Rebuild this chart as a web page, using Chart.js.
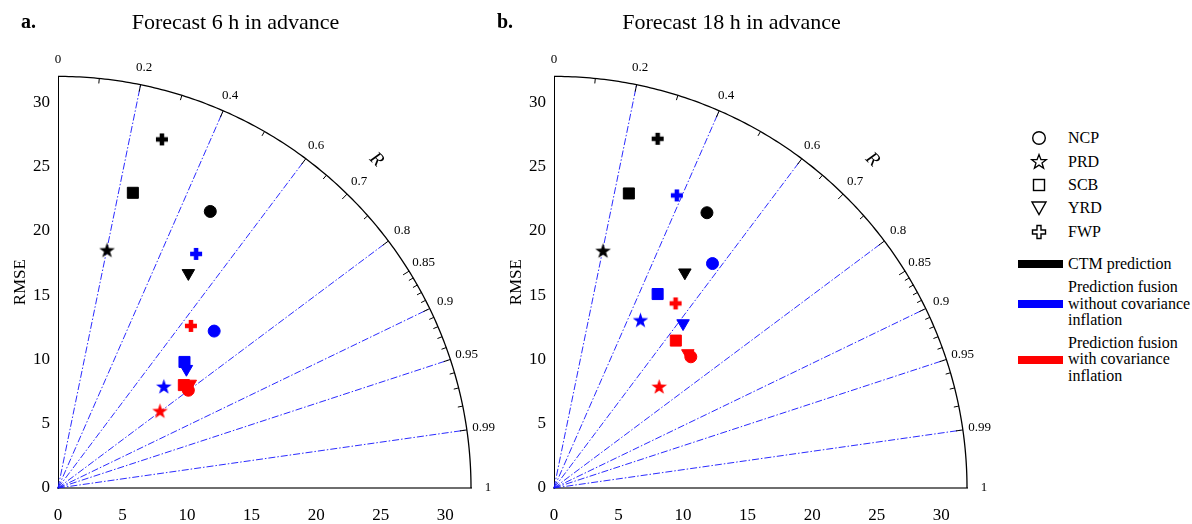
<!DOCTYPE html>
<html>
<head>
<meta charset="utf-8">
<script src="https://cdn.jsdelivr.net/npm/chart.js@4.4.1/dist/chart.umd.min.js"></script>
<style>
  body { margin: 0; background: #fff; }
  #wrap { position: relative; width: 1192px; height: 524px; background: #fff; font-family: "Liberation Serif", "DejaVu Serif", serif; }
  .panel { position: absolute; top: 0; width: 496px; height: 524px; }
  .tag { position: absolute; top: 10px; font-family: "Liberation Serif", serif; font-size: 20px; font-weight: bold; color: #000; }
  #legend { position: absolute; left: 1018px; top: 0; width: 174px; height: 524px; font-family: "Liberation Serif", serif; font-size: 16px; color: #000; }
  .leg-row { position: absolute; left: 0; white-space: nowrap; }
  .leg-text { position: absolute; left: 50px; line-height: 16.5px; white-space: nowrap; }
</style>
</head>
<body>
<div id="wrap">
  <div class="panel" style="left:0"><canvas id="chartA" width="496" height="524"></canvas></div>
  <div class="panel" style="left:496px"><canvas id="chartB" width="496" height="524"></canvas></div>
  <div class="tag" style="left:21px">a.</div>
  <div class="tag" style="left:497px">b.</div>
  <div id="legend"></div>
</div>
<script>
// regions (marker shapes) and methods (marker colours)
const regions = ["NCP", "PRD", "SCB", "YRD", "FWP"];
const methods = ["CTM prediction", "Prediction fusion without covariance inflation", "Prediction fusion with covariance inflation"];
const methodColors = ["#000000", "#0000ff", "#ff0000"];

// Forecast 6 h in advance, point positions (order = regions)
const ctm6hX = [11.8, 3.8, 5.8, 10.1, 8.05];
const ctm6hY = [21.5, 18.5, 22.95, 16.7, 27.1];
const noInfl6hX = [12.1, 8.2, 9.8, 9.95, 10.7];
const noInfl6hY = [12.2, 7.9, 9.8, 9.25, 18.2];
const infl6hX = [10.1, 7.9, 9.75, 10.25, 10.3];
const infl6hY = [7.6, 6.0, 8.0, 8.1, 12.6];

// Forecast 18 h in advance
const ctm18hX = [11.85, 3.8, 5.8, 10.14, 8.03];
const ctm18hY = [21.4, 18.45, 22.9, 16.75, 27.15];
const noInfl18hX = [12.28, 6.7, 8.03, 10.0, 9.52];
const noInfl18hY = [17.45, 13.06, 15.08, 12.8, 22.75];
const infl18hX = [10.6, 8.15, 9.44, 10.37, 9.42];
const infl18hY = [10.2, 7.89, 11.46, 10.47, 14.35];

// axis and correlation-arc settings
const axisTicks = [0, 5, 10, 15, 20, 25, 30];
const axisMax = 32;
const corrLines = [0.2, 0.4, 0.6, 0.8, 0.9, 0.95, 0.99];
const corrLabels = [0, 0.2, 0.4, 0.6, 0.7, 0.8, 0.85, 0.9, 0.95, 0.99, 1];
const corrMinorTicks = [0.1, 0.3, 0.5, 0.65, 0.75, 0.86, 0.87, 0.88, 0.89, 0.91, 0.92, 0.93, 0.94, 0.96, 0.97, 0.98];
const corrMajorTicks = [0.2, 0.4, 0.6, 0.7, 0.8, 0.85, 0.9, 0.95, 0.99];

const serif = "'Liberation Serif', 'DejaVu Serif', serif";
Chart.defaults.font.family = serif;
Chart.defaults.color = "#000";

// filled star and plus markers
function makeStar(color) {
    const c = document.createElement("canvas");
    c.width = 19; c.height = 19;
    const g = c.getContext("2d");
    g.fillStyle = color;
    g.beginPath();
    for (let i = 0; i < 10; i++) {
        const r = i % 2 ? 3.2 : 8.2;
        const a = -Math.PI / 2 + i * Math.PI / 5;
        g.lineTo(9.5 + r * Math.cos(a), 10.2 + r * Math.sin(a));
    }
    g.closePath();
    g.fill();
    return c;
}

function makePlus(color) {
    const c = document.createElement("canvas");
    c.width = 14; c.height = 14;
    const g = c.getContext("2d");
    g.fillStyle = color;
    g.fillRect(1, 4.75, 12, 4.5);
    g.fillRect(4.75, 1, 4.5, 12);
    return c;
}

function pointSet(label, xs, ys, color) {
    return {
        label: label,
        data: xs.map((v, i) => ({x: v, y: ys[i]})),
        showLine: false,
        pointStyle: ["circle", makeStar(color), "rect", "triangle", makePlus(color)],
        rotation: [0, 0, 0, 180, 0],
        pointRadius: [6, 7, 7.8, 7.2, 7],
        pointHoverRadius: [6, 7, 7.8, 7.2, 7],
        pointBackgroundColor: color,
        pointBorderColor: color,
        pointBorderWidth: 1,
    };
}

// arc, correlation rays, ticks and labels of the Taylor diagram
const taylorDecor = {
    id: "taylorDecor",
    beforeDatasetsDraw(chart) {
        const {ctx} = chart;
        const xs = chart.scales.x, ys = chart.scales.y;
        const px = (r, c) => [xs.getPixelForValue(r * c), ys.getPixelForValue(r * Math.sqrt(Math.max(0, 1 - c * c)))];
        const [ox, oy] = px(0, 1);
        const dir = (c) => {
            const [ax, ay] = px(axisMax, c);
            const len = Math.hypot(ax - ox, ay - oy);
            return [ax, ay, (ax - ox) / len, (ay - oy) / len];
        };
        ctx.save();

        // correlation rays
        ctx.strokeStyle = "rgba(20,20,255,0.9)";
        ctx.lineWidth = 1;
        ctx.setLineDash([7, 2, 1.5, 2]);
        corrLines.forEach((c) => {
            const [ax, ay] = px(axisMax, c);
            ctx.beginPath();
            ctx.moveTo(ox, oy);
            ctx.lineTo(ax, ay);
            ctx.stroke();
        });
        ctx.setLineDash([]);

        // outer arc
        ctx.strokeStyle = "#000";
        ctx.lineWidth = 1.3;
        ctx.beginPath();
        for (let i = 0; i <= 180; i++) {
            const a = (i / 180) * Math.PI / 2;
            const p = px(axisMax, Math.cos(a));
            if (i === 0) ctx.moveTo(p[0], p[1]); else ctx.lineTo(p[0], p[1]);
        }
        ctx.stroke();

        // ticks on the arc
        ctx.lineWidth = 1;
        const tick = (c, len) => {
            const [ax, ay, ux, uy] = dir(c);
            ctx.beginPath();
            ctx.moveTo(ax, ay);
            ctx.lineTo(ax - ux * len, ay - uy * len);
            ctx.stroke();
        };
        corrMinorTicks.forEach((c) => tick(c, 5));
        corrMajorTicks.forEach((c) => tick(c, 7));

        // correlation labels
        ctx.fillStyle = "#000";
        ctx.font = "13px " + serif;
        ctx.textAlign = "center";
        ctx.textBaseline = "middle";
        corrLabels.forEach((c) => {
            const [ax, ay, ux, uy] = dir(c);
            ctx.fillText(String(c), ax + ux * 17, ay + uy * 17);
        });

        // "R" axis name
        const [rx, ry, rux, ruy] = dir(0.695);
        ctx.translate(rx + rux * 45, ry + ruy * 45);
        ctx.rotate(Math.PI / 2 - Math.acos(0.695));
        ctx.font = "italic 19px " + serif;
        ctx.fillText("R", 0, 0);
        ctx.restore();
    },
};

function makeChart(canvasId, title, sets) {
    const ctx = document.getElementById(canvasId).getContext("2d");
    return new Chart(ctx, {
        type: "scatter",
        data: {
            datasets: sets.map((s, i) => pointSet(methods[i], s[0], s[1], methodColors[i])),
        },
        options: {
            responsive: false,
            animation: false,
            layout: {padding: {left: 0, right: 25, top: 0, bottom: 0}},
            plugins: {
                legend: {display: false},
                tooltip: {enabled: false},
                title: {
                    display: true,
                    text: title,
                    color: "#000",
                    font: {size: 22, weight: "normal", family: serif},
                    padding: {top: 10, bottom: 40},
                },
            },
            scales: {
                x: {
                    type: "linear",
                    min: 0,
                    max: axisMax,
                    grid: {display: false, drawTicks: false},
                    border: {display: true, color: "#6e6e6e", width: 2},
                    ticks: {font: {size: 17}, color: "#000", padding: 17, maxRotation: 0},
                    afterBuildTicks: (s) => { s.ticks = axisTicks.map((v) => ({value: v})); },
                    afterFit: (s) => { s.height = 36; },
                },
                y: {
                    type: "linear",
                    min: 0,
                    max: axisMax,
                    grid: {display: false, drawTicks: false},
                    border: {display: true, color: "#000", width: 1},
                    ticks: {font: {size: 17}, color: "#000", padding: 8},
                    title: {display: true, text: "RMSE", font: {size: 17}, color: "#000", padding: {top: 10, bottom: 0}},
                    afterBuildTicks: (s) => { s.ticks = axisTicks.map((v) => ({value: v})); },
                    afterFit: (s) => { s.width = 58; },
                },
            },
        },
        plugins: [taylorDecor],
    });
}

makeChart("chartA", "Forecast 6 h in advance", [[ctm6hX, ctm6hY], [noInfl6hX, noInfl6hY], [infl6hX, infl6hY]]);
makeChart("chartB", "Forecast 18 h in advance", [[ctm18hX, ctm18hY], [noInfl18hX, noInfl18hY], [infl18hX, infl18hY]]);

// legend: region shapes (outlined) and method colour bars
const legendShapes = {
    NCP: '<circle cx="10" cy="10" r="6.3" fill="none" stroke="#000" stroke-width="1.4"/>',
    PRD: '<polygon points="10,2.5 11.9,7.6 17.3,7.7 13,11 14.6,16.2 10,13.1 5.4,16.2 7,11 2.7,7.7 8.1,7.6" fill="none" stroke="#000" stroke-width="1.3"/>',
    SCB: '<rect x="4.5" y="4.5" width="11" height="11" fill="none" stroke="#000" stroke-width="1.4"/>',
    YRD: '<polygon points="3,4 17,4 10,16.5" fill="none" stroke="#000" stroke-width="1.4"/>',
    FWP: '<polygon points="8,3.5 12,3.5 12,8 16.5,8 16.5,12 12,12 12,16.5 8,16.5 8,12 3.5,12 3.5,8 8,8" fill="none" stroke="#000" stroke-width="1.4"/>',
};
const legendShapeY = [138, 162, 185, 208, 231.5];
const legendBars = [
    {y: 264, lines: ["CTM prediction"]},
    {y: 304, lines: ["Prediction fusion", "without covariance", "inflation"]},
    {y: 359.5, lines: ["Prediction fusion", "with covariance", "inflation"]},
];
const legend = document.getElementById("legend");
let html = "";
regions.forEach((r, i) => {
    html += `<div class="leg-row" style="top:${legendShapeY[i] - 10}px;left:11px"><svg width="20" height="20">${legendShapes[r]}</svg></div>`;
    html += `<div class="leg-row" style="top:${legendShapeY[i] - 9}px;left:50px;line-height:18px">${r}</div>`;
});
legendBars.forEach((b, i) => {
    html += `<div class="leg-row" style="top:${b.y - 4}px;width:45px;height:8px;background:${methodColors[i]}"></div>`;
    const h = b.lines.length * 16.5;
    html += `<div class="leg-text" style="top:${b.y - h / 2}px">${b.lines.join("<br>")}</div>`;
});
legend.innerHTML = html;
</script>
</body>
</html>
